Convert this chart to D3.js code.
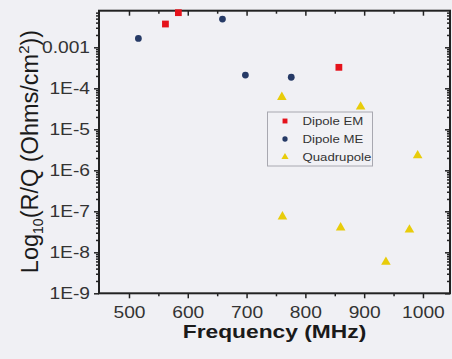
<!DOCTYPE html>
<html>
<head>
<meta charset="utf-8">
<script src="https://cdn.jsdelivr.net/npm/d3@7"></script>
<style>
  html, body { margin: 0; padding: 0; background: #f0f0f4; }
  svg { display: block; font-family: "Liberation Sans", Arial, sans-serif; }
  .wide { transform-box: fill-box; transform: scaleX(1.2); }
  .y-axis text { transform-origin: right center; }
  .x-axis text, .xlab { transform-origin: center; }
  .leg text { transform-origin: left center; }
</style>
</head>
<body>
<div id="chart"></div>
<script>
// series
const emFreq = [562, 584, 857];
const emRQ = [3.7e-3, 7.0e-3, 3.25e-4];
const meFreq = [516, 659, 698, 776];
const meRQ = [1.65e-3, 4.9e-3, 2.1e-4, 1.86e-4];
const quadFreq = [760, 894, 991, 761, 860, 937, 977];
const quadRQ = [6.1e-5, 3.55e-5, 2.3e-6, 7.4e-8, 4.0e-8, 5.8e-9, 3.55e-8];

const xTicks = [500, 600, 700, 800, 900, 1000];
const xMinor = [550, 650, 750, 850, 950];
const yTicks = [1e-3, 1e-4, 1e-5, 1e-6, 1e-7, 1e-8, 1e-9];
const yTickLabels = ["0.001", "1E-4", "1E-5", "1E-6", "1E-7", "1E-8", "1E-9"];
const seriesNames = ["Dipole EM", "Dipole ME", "Quadrupole"];

const W = 452, H = 359;
const m = {top: 10.7, right: 2, bottom: 65.7, left: 99};
const iw = W - m.left - m.right, ih = H - m.top - m.bottom;

const svg = d3.select("#chart").append("svg")
  .attr("width", W).attr("height", H);

const x = d3.scaleLinear().domain([449, 1046]).range([0, iw]);
const y = d3.scaleLog().domain([1e-9, Math.pow(10, -2.107)]).range([ih, 0]);

const g = svg.append("g").attr("transform", "translate(" + m.left + "," + m.top + ")");

// minor log ticks
let yMinor = [];
for (let e = -9; e <= -3; e++) {
  for (let k = 2; k <= 9; k++) {
    let v = k * Math.pow(10, e);
    if (v < y.domain()[1]) yMinor.push(v);
  }
}

const ink = "#222";

function styleAxis(sel) {
  sel.select(".domain").remove();
  sel.selectAll("line").attr("stroke", ink).attr("stroke-width", 1.5);
}

// bottom
g.append("g").attr("transform", "translate(0," + ih + ")")
  .call(d3.axisBottom(x).tickValues(xMinor).tickSize(3).tickFormat(""))
  .call(styleAxis);
g.append("g").attr("class", "x-axis").attr("transform", "translate(0," + ih + ")")
  .call(d3.axisBottom(x).tickValues(xTicks).tickSize(5).tickPadding(8).tickFormat(d3.format("d")))
  .call(styleAxis)
  .selectAll("text").attr("class", "wide").attr("fill", "#333")
  .style("font-size", "16px").style("font-family", "Liberation Sans, Arial, sans-serif");

// top (inward)
g.append("g").call(d3.axisBottom(x).tickValues(xTicks).tickSize(5).tickFormat("")).call(styleAxis);
g.append("g").call(d3.axisBottom(x).tickValues(xMinor).tickSize(3).tickFormat("")).call(styleAxis);

// left
g.append("g")
  .call(d3.axisLeft(y).tickValues(yMinor).tickSize(3).tickFormat(""))
  .call(styleAxis);
g.append("g").attr("class", "y-axis")
  .call(d3.axisLeft(y).tickValues(yTicks).tickSize(5).tickPadding(4)
    .tickFormat((d, i) => yTickLabels[i]))
  .call(styleAxis)
  .selectAll("text").attr("class", "wide").attr("fill", "#333")
  .style("font-size", "16px").style("font-family", "Liberation Sans, Arial, sans-serif");

// right (inward)
g.append("g").attr("transform", "translate(" + iw + ",0)")
  .call(d3.axisLeft(y).tickValues(yTicks).tickSize(5).tickFormat(""))
  .call(styleAxis);
g.append("g").attr("transform", "translate(" + iw + ",0)")
  .call(d3.axisLeft(y).tickValues(yMinor).tickSize(3).tickFormat(""))
  .call(styleAxis);

// frame
g.append("rect").attr("width", iw).attr("height", ih)
  .attr("fill", "none").attr("stroke", ink).attr("stroke-width", 2);

// points
const cEM = "#e5121b", cME = "#263a66", cQ = "#e8cc0a";
const sq = d3.symbol().type(d3.symbolSquare).size(46);
const ci = d3.symbol().type(d3.symbolCircle).size(36);
const tr = d3.symbol().type(d3.symbolTriangle).size(40);

g.selectAll(".em").data(d3.zip(emFreq, emRQ)).join("path")
  .attr("d", sq).attr("fill", cEM)
  .attr("transform", d => "translate(" + x(d[0]) + "," + y(d[1]) + ")");
g.selectAll(".me").data(d3.zip(meFreq, meRQ)).join("path")
  .attr("d", ci).attr("fill", cME)
  .attr("transform", d => "translate(" + x(d[0]) + "," + y(d[1]) + ")");
g.selectAll(".q").data(d3.zip(quadFreq, quadRQ)).join("path")
  .attr("d", tr).attr("fill", cQ)
  .attr("transform", d => "translate(" + x(d[0]) + "," + y(d[1]) + ")");

// legend
const leg = svg.append("g").attr("class", "leg").attr("transform", "translate(267.5,112)");
leg.append("rect").attr("width", 105).attr("height", 54)
  .attr("fill", "#f1f1f5").attr("stroke", "#a8a8b0").attr("stroke-width", 1);
const legSym = [d3.symbol().type(d3.symbolSquare).size(24), d3.symbol().type(d3.symbolCircle).size(22), d3.symbol().type(d3.symbolTriangle).size(22)];
const legCol = [cEM, cME, cQ];
seriesNames.forEach((name, i) => {
  const yy = 9 + i * 18;
  leg.append("path").attr("d", legSym[i]).attr("fill", legCol[i])
    .attr("transform", "translate(17.5," + yy + ")");
  leg.append("text").attr("class", "wide").attr("x", 35).attr("y", yy + 4)
    .attr("fill", "#333").style("font-size", "11px").text(name);
});

// axis titles
svg.append("text").attr("class", "wide xlab")
  .attr("x", m.left + iw / 2).attr("y", 338)
  .attr("text-anchor", "middle").attr("fill", "#1a1a1a")
  .style("font-size", "19px").style("font-weight", "bold")
  .text("Frequency (MHz)");

const yl = svg.append("text")
  .attr("transform", "translate(38,151.5) rotate(-90)")
  .attr("text-anchor", "middle").attr("fill", "#1a1a1a")
  .style("font-size", "23.5px");
yl.append("tspan").text("Log");
yl.append("tspan").attr("dy", 5).style("font-size", "14px").text("10");
yl.append("tspan").attr("dy", -5).text("(R/Q (Ohms/cm");
yl.append("tspan").attr("dy", -9).style("font-size", "15px").text("2");
yl.append("tspan").attr("dy", 9).text("))");
</script>
</body>
</html>
